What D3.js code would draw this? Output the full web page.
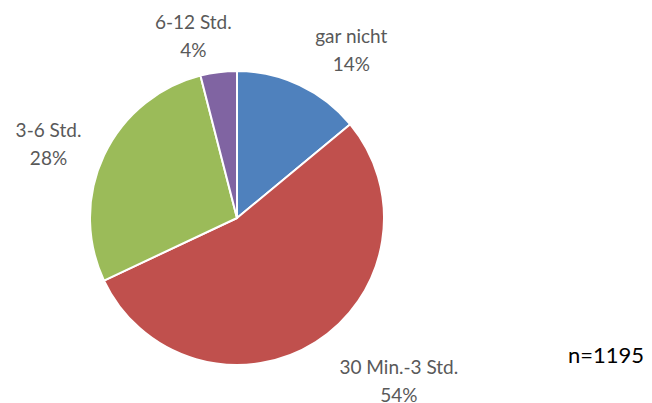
<!DOCTYPE html>
<html>
<head>
<meta charset="utf-8">
<script src="https://cdn.jsdelivr.net/npm/d3@7"></script>
<style>
  html, body { margin: 0; padding: 0; background: #fff; }
  svg { display: block; }
  text { font-family: Lato, "Open Sans", sans-serif; }
</style>
</head>
<body>
<div id="chart"></div>
<script>
// slices, clockwise from 12 o'clock
const categories = ['gar nicht', '30 Min.-3 Std.', '3-6 Std.', '6-12 Std.'];
const shares = [14, 54, 28, 4];
const sampleLabel = 'n=1195';

const colors = ['#4f81bd', '#c0504d', '#9bbb59', '#8064a2'];
// excel "best fit" label nudges (px), relative to the label ring
const labelNudge = [[27, 16], [52, -11], [-3, 12], [-18, 20]];

const width = 652, height = 403;
const cx = 237, cy = 218, radius = 147;

const svg = d3.select('#chart').append('svg')
    .attr('width', width)
    .attr('height', height);

const g = svg.append('g')
    .attr('transform', 'translate(' + cx + ',' + cy + ')');

const data = categories.map(function(c, i) {
    return { name: c, value: shares[i], idx: i };
});

const pie = d3.pie()
    .sort(null)
    .value(function(d) { return d.value; });

const arc = d3.arc().innerRadius(0).outerRadius(radius);
const labelArc = d3.arc().innerRadius(205).outerRadius(205);

const arcs = pie(data);

g.selectAll('path')
    .data(arcs)
    .enter().append('path')
    .attr('d', arc)
    .attr('fill', function(d) { return colors[d.data.idx]; })
    .attr('stroke', '#fff')
    .attr('stroke-width', 2)
    .attr('stroke-linejoin', 'round');

const labels = g.selectAll('text.label')
    .data(arcs)
    .enter().append('text')
    .attr('class', 'label')
    .attr('text-anchor', 'middle')
    .attr('fill', '#595959')
    .style('font-size', '19px')
    .attr('transform', function(d) {
        const c = labelArc.centroid(d);
        const n = labelNudge[d.data.idx];
        return 'translate(' + (c[0] + n[0]) + ',' + (c[1] + n[1]) + ')';
    });

labels.append('tspan')
    .attr('x', 0)
    .attr('y', -6)
    .text(function(d) { return d.data.name; });

labels.append('tspan')
    .attr('x', 0)
    .attr('y', 22)
    .text(function(d) { return d.data.value + '%'; });

svg.append('text')
    .attr('x', 606)
    .attr('y', 363)
    .attr('text-anchor', 'middle')
    .attr('fill', '#000')
    .style('font-size', '22px')
    .text(sampleLabel);
</script>
</body>
</html>
